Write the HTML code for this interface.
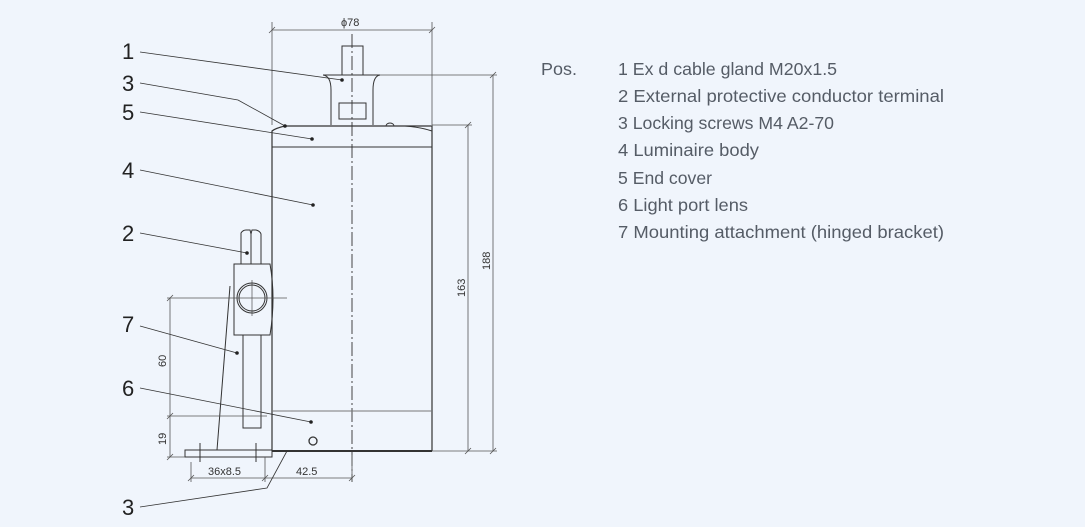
<!DOCTYPE html>
<html><head><meta charset="utf-8"><style>
html,body{margin:0;padding:0;background:#f0f5fc;width:1085px;height:527px;overflow:hidden}
svg{position:absolute;left:0;top:0}
.t{font-family:"Liberation Sans",sans-serif;fill:#555c66;font-size:17.5px}
.n{font-family:"Liberation Sans",sans-serif;fill:#222;font-size:22px}
.d{font-family:"Liberation Sans",sans-serif;fill:#333;font-size:11px}
</style></head><body>
<svg width="1085" height="527" viewBox="0 0 1085 527">
<g stroke="#333" fill="none" stroke-width="1">
<line x1="352" y1="34" x2="352" y2="482" stroke-dasharray="14,3,2,3" stroke="#444"/>
<rect x="342" y="46" width="21" height="29"/>
<path d="M323,75 L380,75 M323,75 Q331,76 331,90 L331,125 M380,75 Q373,76 373,90 L373,125"/>
<rect x="339" y="103" width="27" height="16"/>
<path d="M272,451 L272,131 Q276,128 285,126 L432,126 L432,451" stroke-width="1.2"/>
<path d="M405,126 Q420,127 432,131"/>
<line x1="272" y1="147" x2="432" y2="147"/>
<path d="M386,126 a4,3 0 0 1 8,0"/>
<line x1="272" y1="411" x2="432" y2="411" stroke="#777"/>
<line x1="272" y1="451" x2="432" y2="451" stroke-width="2"/>
<circle cx="313" cy="441" r="4" stroke-width="1.3"/>
<path d="M241,264 L241,233 Q243,230 246,230 L250,230 L251,234 L252,230 L256,230 Q260,231 261,234 L261,264"/>
<line x1="251" y1="232" x2="251" y2="264"/>
<path d="M234,264 L270,264 Q276,298 270,335 L234,335 Z"/>
<circle cx="252" cy="298" r="15"/>
<circle cx="252" cy="298" r="13"/>
<line x1="252" y1="280" x2="252" y2="316" stroke-width="0.6"/>
<rect x="243" y="335" width="18" height="93"/>
<line x1="230" y1="286" x2="217" y2="450"/>
<rect x="185" y="450" width="87" height="7"/>
<line x1="200" y1="443" x2="200" y2="462"/>
<line x1="256" y1="443" x2="256" y2="462"/>
<g stroke="#555" stroke-width="0.8">
<line x1="272" y1="22" x2="272" y2="125"/><line x1="432" y1="22" x2="432" y2="125"/>
<line x1="272" y1="30" x2="432" y2="30"/>
<line x1="269" y1="33" x2="275" y2="27"/><line x1="429" y1="33" x2="435" y2="27"/>
<line x1="380" y1="75" x2="497" y2="75"/>
<line x1="493" y1="75" x2="493" y2="451"/>
<line x1="490" y1="78" x2="496" y2="72"/><line x1="490" y1="454" x2="496" y2="448"/>
<line x1="432" y1="125" x2="472" y2="125"/>
<line x1="468" y1="125" x2="468" y2="451"/>
<line x1="465" y1="128" x2="471" y2="122"/><line x1="465" y1="454" x2="471" y2="448"/>
<line x1="432" y1="451" x2="497" y2="451"/>
<line x1="167" y1="298" x2="287" y2="298"/>
<line x1="167" y1="416" x2="267" y2="416"/>
<line x1="170" y1="298" x2="170" y2="457"/>
<line x1="167" y1="301" x2="173" y2="295"/><line x1="167" y1="419" x2="173" y2="413"/><line x1="167" y1="460" x2="173" y2="454"/>
<line x1="167" y1="457" x2="185" y2="457"/>
<line x1="191" y1="478" x2="352" y2="478"/>
<line x1="191" y1="462" x2="191" y2="482"/><line x1="265" y1="457" x2="265" y2="482"/><line x1="352" y1="455" x2="352" y2="482"/>
<line x1="188" y1="481" x2="194" y2="475"/><line x1="262" y1="481" x2="268" y2="475"/><line x1="349" y1="481" x2="355" y2="475"/>
</g>
<g stroke="#333" stroke-width="0.8">
<polyline points="140,52 342,80"/>
<polyline points="140,83 238,100 285,126"/>
<polyline points="140,112 312,139"/>
<polyline points="140,170 313,205"/>
<polyline points="140,233 247,253"/>
<polyline points="140,326 237,353"/>
<polyline points="140,388 311,422"/>
<polyline points="140,507 267,488 287,451"/>
</g>
</g>
<g fill="#222">
<circle cx="342" cy="80" r="1.8"/><circle cx="285" cy="126" r="1.8"/><circle cx="312" cy="139" r="1.8"/>
<circle cx="313" cy="205" r="1.8"/><circle cx="247" cy="253" r="1.8"/><circle cx="237" cy="353" r="1.8"/>
<circle cx="311" cy="422" r="1.8"/>
</g>
<text class="n" x="122" y="59">1</text>
<text class="n" x="122" y="91">3</text>
<text class="n" x="122" y="120">5</text>
<text class="n" x="122" y="178">4</text>
<text class="n" x="122" y="241">2</text>
<text class="n" x="122" y="332">7</text>
<text class="n" x="122" y="396">6</text>
<text class="n" x="122" y="515">3</text>
<text class="d" x="341" y="26">ϕ78</text>
<text class="d" transform="translate(490,270) rotate(-90)">188</text>
<text class="d" transform="translate(465,297) rotate(-90)">163</text>
<text class="d" transform="translate(166,367) rotate(-90)">60</text>
<text class="d" transform="translate(166,445) rotate(-90)">19</text>
<text class="d" x="208" y="475">36x8.5</text>
<text class="d" x="296" y="475">42.5</text>
<text class="t" x="541" y="75" textLength="36" lengthAdjust="spacingAndGlyphs">Pos.</text>
<text class="t" x="618" y="75" textLength="219" lengthAdjust="spacingAndGlyphs">1 Ex d cable gland M20x1.5</text>
<text class="t" x="618" y="102" textLength="326" lengthAdjust="spacingAndGlyphs">2 External protective conductor terminal</text>
<text class="t" x="618" y="129" textLength="216" lengthAdjust="spacingAndGlyphs">3 Locking screws M4 A2-70</text>
<text class="t" x="618" y="156" textLength="141" lengthAdjust="spacingAndGlyphs">4 Luminaire body</text>
<text class="t" x="618" y="184" textLength="94" lengthAdjust="spacingAndGlyphs">5 End cover</text>
<text class="t" x="618" y="211" textLength="130" lengthAdjust="spacingAndGlyphs">6 Light port lens</text>
<text class="t" x="618" y="238" textLength="326" lengthAdjust="spacingAndGlyphs">7 Mounting attachment (hinged bracket)</text>
</svg>
</body></html>
